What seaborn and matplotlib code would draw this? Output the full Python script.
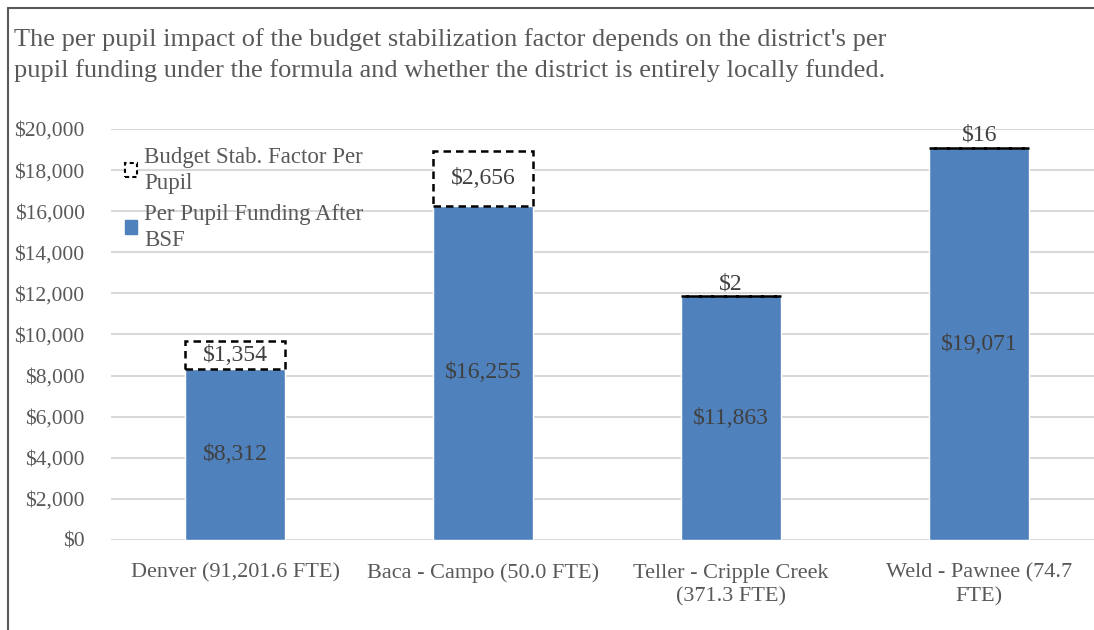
import matplotlib
matplotlib.use("Agg")
import matplotlib.pyplot as plt
import seaborn as sns
import pandas as pd
from matplotlib.patches import Patch
from matplotlib.lines import Line2D

districts = ["Denver (91,201.6 FTE)", "Baca - Campo (50.0 FTE)",
             "Teller - Cripple Creek\n(371.3 FTE)", "Weld - Pawnee (74.7\nFTE)"]
after_bsf = [8312, 16255, 11863, 19071]
bsf = [1354, 2656, 2, 16]
yticks = list(range(0, 20001, 2000))

title = ("The per pupil impact of the budget stabilization factor depends on the district's per\n"
         "pupil funding under the formula and whether the district is entirely locally funded.")

sns.set_style("white")
plt.rcParams['font.family'] = ['Liberation Serif', 'DejaVu Serif']
gray = "#595959"
blue = "#4F81BD"

df = pd.DataFrame({"district": districts, "after": after_bsf, "bsf": bsf})

fig = plt.figure(figsize=(10.94, 6.30), dpi=100)
ax = fig.add_axes([0.1015, 0.1429, 0.907, 0.6524])

sns.barplot(data=df, x="district", y="after", color=blue, width=0.403,
            saturation=1, ax=ax, zorder=2)
sns.barplot(data=df, x="district", y="bsf", bottom=df["after"], color="white",
            width=0.403, saturation=1, edgecolor="black", linestyle=(0, (3, 2)),
            linewidth=1.8, ax=ax, zorder=3)

ax.set_ylim(0, 20000)
ax.set_xlim(-0.5, 3.5)
ax.set_yticks(yticks)
ax.set_yticklabels([f"${v:,}" for v in yticks])
ax.yaxis.grid(True, color="#D9D9D9", linewidth=1.5, zorder=0)
ax.set_axisbelow(True)
for s in ax.spines.values():
    s.set_visible(False)
ax.tick_params(axis="y", length=0, labelsize=15.5, labelcolor=gray, pad=19)
ax.tick_params(axis="x", length=0, labelsize=16, labelcolor=gray, pad=17)
for t in ax.get_xticklabels():
    t.set_linespacing(1.3)
ax.set_xlabel("")
ax.set_ylabel("")

for i, (a, b) in enumerate(zip(after_bsf, bsf)):
    ax.text(i, a / 2, f"${a:,}", ha="center", va="center", fontsize=17, color="#404040", zorder=5)
    if b > 500:
        ax.text(i, a + b / 2, f"${b:,}", ha="center", va="center", fontsize=17, color="#404040", zorder=5)
    else:
        ax.text(i, a + b + 100, f"${b:,}", ha="center", va="bottom", fontsize=17, color="#404040", zorder=5)

handles = [Patch(facecolor="white", edgecolor="black", linestyle=(0, (2, 1.5)), linewidth=1.5),
           Patch(facecolor=blue, edgecolor=blue)]
leg = ax.legend(handles, ["Budget Stab. Factor Per\nPupil", "Per Pupil Funding After\nBSF"],
                loc="upper left", bbox_to_anchor=(0.0, 0.99), frameon=False,
                fontsize=16.5, handlelength=0.55, handleheight=0.55, handletextpad=0.3,
                labelspacing=0.45, labelcolor=gray, borderaxespad=0.2)
for t in leg.get_texts():
    t.set_linespacing(1.3)

fig.text(0.013, 0.955, title, ha="left", va="top", fontsize=19, color=gray, linespacing=1.4)

fig.add_artist(Line2D([0.0075, 0.0075], [0, 0.987], color=gray, linewidth=1.5))
fig.add_artist(Line2D([0.0075, 1.0], [0.987, 0.987], color=gray, linewidth=1.5))

fig.savefig("out.png", dpi=100)
